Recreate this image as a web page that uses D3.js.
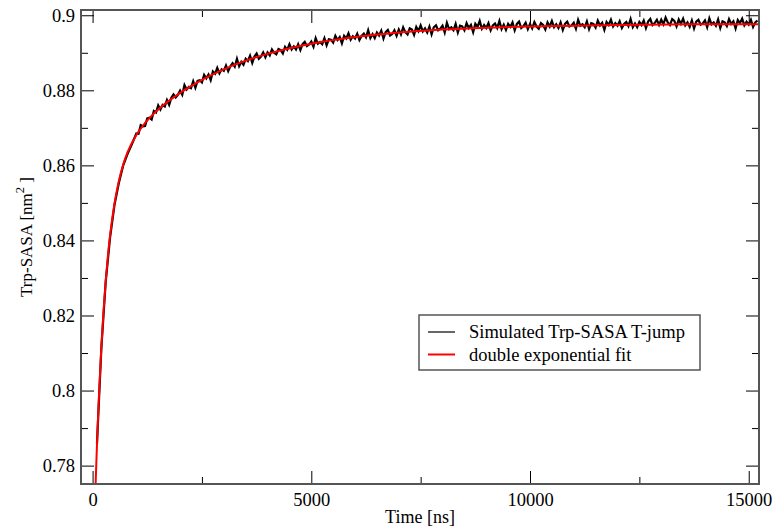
<!DOCTYPE html>
<html>
<head>
<meta charset="utf-8">
<script src="https://cdn.jsdelivr.net/npm/d3@7/dist/d3.min.js"></script>
<style>
  body { margin: 0; background: #fff; }
  text { font-family: "Liberation Serif", "Times New Roman", serif; fill: #000; }
</style>
</head>
<body>
<script>
const svgW = 775;
const svgH = 527;

// time axis (ns)
const xTickValues = [0, 5000, 10000, 15000];
const xTickLabels = ['0', '5000', '10000', '15000'];
const xMinorValues = [2500, 7500, 12500];

// SASA axis (nm^2)
const yTickValues = [0.78, 0.80, 0.82, 0.84, 0.86, 0.88, 0.90];
const yTickLabels = ['0.78', '0.8', '0.82', '0.84', '0.86', '0.88', '0.9'];
const yMinorValues = [0.79, 0.81, 0.83, 0.85, 0.87, 0.89];

const seriesNames = ['Simulated Trp-SASA T-jump', 'double exponential fit'];

// simulated trace: every 100 ns up to 900 ns, then every 50 ns
const simTime = d3.range(100, 1000, 100).concat(d3.range(1000, 15201, 50));
const simSasa = [
  0.7858, 0.8112, 0.8290, 0.8408, 0.8494, 0.8553, 0.8600, 0.8631, 0.8657,
  // 1000 - 2950
  0.8685, 0.8684, 0.8707, 0.8704, 0.8705, 0.8725, 0.8727, 0.8722, 0.8745, 0.8741,
  0.8760, 0.8749, 0.8761, 0.8757, 0.8774, 0.8761, 0.8780, 0.8789, 0.8781, 0.8788,
  0.8799, 0.8788, 0.8814, 0.8802, 0.8809, 0.8806, 0.8824, 0.8807, 0.8825, 0.8827,
  0.8821, 0.8841, 0.8832, 0.8842, 0.8827, 0.8850, 0.8844, 0.8860, 0.8845, 0.8856,
  // 3000 - 4950
  0.8852, 0.8866, 0.8851, 0.8864, 0.8872, 0.8863, 0.8884, 0.8864, 0.8876, 0.8868,
  0.8884, 0.8878, 0.8892, 0.8873, 0.8890, 0.8898, 0.8884, 0.8890, 0.8901, 0.8888,
  0.8901, 0.8893, 0.8909, 0.8900, 0.8896, 0.8910, 0.8907, 0.8898, 0.8916, 0.8908,
  0.8923, 0.8909, 0.8917, 0.8909, 0.8923, 0.8907, 0.8923, 0.8929, 0.8918, 0.8922,
  // 5000 - 6950
  0.8930, 0.8916, 0.8939, 0.8924, 0.8929, 0.8923, 0.8939, 0.8920, 0.8936, 0.8935,
  0.8927, 0.8945, 0.8934, 0.8942, 0.8925, 0.8945, 0.8938, 0.8952, 0.8935, 0.8944,
  0.8938, 0.8951, 0.8934, 0.8945, 0.8951, 0.8941, 0.8960, 0.8939, 0.8950, 0.8939,
  0.8954, 0.8946, 0.8959, 0.8938, 0.8955, 0.8961, 0.8946, 0.8950, 0.8960, 0.8945,
  // 7000 - 8950
  0.8962, 0.8949, 0.8968, 0.8955, 0.8949, 0.8965, 0.8962, 0.8948, 0.8969, 0.8958,
  0.8973, 0.8957, 0.8965, 0.8954, 0.8970, 0.8949, 0.8968, 0.8973, 0.8960, 0.8964,
  0.8972, 0.8954, 0.8980, 0.8963, 0.8968, 0.8960, 0.8977, 0.8954, 0.8972, 0.8970,
  0.8960, 0.8979, 0.8966, 0.8974, 0.8955, 0.8977, 0.8969, 0.8985, 0.8964, 0.8974,
  // 9000 - 10950
  0.8966, 0.8979, 0.8960, 0.8973, 0.8978, 0.8966, 0.8985, 0.8963, 0.8975, 0.8961,
  0.8977, 0.8969, 0.8981, 0.8960, 0.8977, 0.8983, 0.8966, 0.8971, 0.8980, 0.8963,
  0.8977, 0.8965, 0.8982, 0.8970, 0.8964, 0.8979, 0.8974, 0.8962, 0.8981, 0.8970,
  0.8985, 0.8968, 0.8976, 0.8966, 0.8981, 0.8961, 0.8977, 0.8983, 0.8970, 0.8973,
  // 11000 - 12950
  0.8980, 0.8964, 0.8988, 0.8972, 0.8976, 0.8968, 0.8984, 0.8963, 0.8979, 0.8977,
  0.8967, 0.8986, 0.8973, 0.8980, 0.8961, 0.8982, 0.8974, 0.8988, 0.8970, 0.8979,
  0.8972, 0.8984, 0.8966, 0.8977, 0.8982, 0.8971, 0.8990, 0.8968, 0.8978, 0.8968,
  0.8982, 0.8974, 0.8986, 0.8966, 0.8983, 0.8990, 0.8974, 0.8979, 0.8988, 0.8974,
  // 13000 - 14950
  0.8988, 0.8976, 0.8994, 0.8981, 0.8974, 0.8990, 0.8985, 0.8970, 0.8989, 0.8977,
  0.8991, 0.8973, 0.8981, 0.8969, 0.8986, 0.8965, 0.8983, 0.8988, 0.8975, 0.8978,
  0.8986, 0.8968, 0.8992, 0.8976, 0.8981, 0.8972, 0.8989, 0.8966, 0.8984, 0.8981,
  0.8971, 0.8990, 0.8977, 0.8984, 0.8965, 0.8987, 0.8979, 0.8991, 0.8973, 0.8983,
  // 15000 - 15200
  0.8975, 0.8988, 0.8969, 0.8981, 0.8986
];

// double exponential fit
const fitTime = [
  60, 80, 100, 125, 150, 200, 250, 300, 350, 400,
  500, 600, 700, 800, 1000, 1200, 1500, 2000, 2500, 3000,
  3500, 4000, 5000, 6000, 7000, 8000, 9000, 10000, 12000, 14000, 15250
];
const fitSasa = [
  0.7718, 0.7789, 0.7855, 0.7930, 0.7998, 0.8115, 0.8212, 0.8292, 0.8359, 0.8414,
  0.8498, 0.8558, 0.8602, 0.8635, 0.8681, 0.8713, 0.8749, 0.8793, 0.8828, 0.8856,
  0.8879, 0.8897, 0.8924, 0.8942, 0.8954, 0.8962, 0.8967, 0.8970, 0.8974, 0.8976, 0.8976
];

const margin = { top: 10, right: 16, bottom: 43, left: 81 };
const width = svgW - margin.left - margin.right;
const height = svgH - margin.top - margin.bottom;

const svg = d3.select('body')
              .append('svg')
              .attr('width', svgW)
              .attr('height', svgH);

const g = svg.append('g')
             .attr('transform', `translate(${margin.left}, ${margin.top})`);

const xScale = d3.scaleLinear().domain([-265, 15235]).range([0, width]);
const yScale = d3.scaleLinear().domain([0.7751, 0.9014]).range([height, 0]);

g.append('clipPath')
  .attr('id', 'plot-clip')
  .append('rect')
  .attr('width', width)
  .attr('height', height);

// lines
const simLine = d3.line()
  .x((d, i) => xScale(simTime[i]))
  .y(d => yScale(d));

const fitLine = d3.line()
  .x((d, i) => xScale(fitTime[i]))
  .y(d => yScale(d))
  .curve(d3.curveMonotoneX);

const plot = g.append('g').attr('clip-path', 'url(#plot-clip)');

// the recorded trace is very dense, so it reads as a thick jagged band
plot.append('path')
  .datum(simSasa)
  .attr('d', simLine)
  .attr('fill', 'none')
  .attr('stroke', '#000')
  .attr('stroke-width', 2.2)
  .attr('stroke-linejoin', 'miter');

plot.append('path')
  .datum(fitSasa)
  .attr('d', fitLine)
  .attr('fill', 'none')
  .attr('stroke', '#ff0000')
  .attr('stroke-width', 2);

// axes: ticks point inward, mirrored on top and right
const majorLen = 13;
const minorLen = 7;

function styleAxis(sel) {
  sel.select('.domain').remove();
  sel.selectAll('line').attr('stroke', '#000').attr('stroke-width', 1);
  sel.selectAll('text').style('font-size', '18.5px').attr('fill', '#000');
}

g.append('g')
  .attr('transform', `translate(0, ${height})`)
  .call(d3.axisBottom(xScale).tickValues(xTickValues)
    .tickFormat((d, i) => xTickLabels[i])
    .tickSizeInner(-majorLen).tickSizeOuter(0).tickPadding(9))
  .call(styleAxis);

g.append('g')
  .attr('transform', `translate(0, ${height})`)
  .call(d3.axisBottom(xScale).tickValues(xMinorValues).tickFormat('')
    .tickSizeInner(-minorLen).tickSizeOuter(0))
  .call(styleAxis);

g.append('g')
  .call(d3.axisTop(xScale).tickValues(xTickValues).tickFormat('')
    .tickSizeInner(-majorLen).tickSizeOuter(0))
  .call(styleAxis);

g.append('g')
  .call(d3.axisTop(xScale).tickValues(xMinorValues).tickFormat('')
    .tickSizeInner(-minorLen).tickSizeOuter(0))
  .call(styleAxis);

g.append('g')
  .call(d3.axisLeft(yScale).tickValues(yTickValues)
    .tickFormat((d, i) => yTickLabels[i])
    .tickSizeInner(-majorLen).tickSizeOuter(0).tickPadding(6))
  .call(styleAxis);

g.append('g')
  .call(d3.axisLeft(yScale).tickValues(yMinorValues).tickFormat('')
    .tickSizeInner(-minorLen).tickSizeOuter(0))
  .call(styleAxis);

g.append('g')
  .attr('transform', `translate(${width}, 0)`)
  .call(d3.axisRight(yScale).tickValues(yTickValues).tickFormat('')
    .tickSizeInner(-majorLen).tickSizeOuter(0))
  .call(styleAxis);

g.append('g')
  .attr('transform', `translate(${width}, 0)`)
  .call(d3.axisRight(yScale).tickValues(yMinorValues).tickFormat('')
    .tickSizeInner(-minorLen).tickSizeOuter(0))
  .call(styleAxis);

// frame
g.append('rect')
  .attr('width', width)
  .attr('height', height)
  .attr('fill', 'none')
  .attr('stroke', '#555')
  .attr('stroke-width', 2);

// axis titles
g.append('text')
  .attr('x', width / 2)
  .attr('y', height + 39)
  .attr('text-anchor', 'middle')
  .style('font-size', '18px')
  .text('Time [ns]');

const yTitle = svg.append('text')
  .attr('transform', 'translate(32, 237) rotate(-90)')
  .attr('text-anchor', 'middle')
  .style('font-size', '17px');
yTitle.append('tspan').text('Trp-SASA [nm');
yTitle.append('tspan').attr('dy', -8).style('font-size', '12.5px').text('2');
yTitle.append('tspan').attr('dy', 8).text(' ]');

// legend
const legend = svg.append('g').attr('transform', 'translate(419, 315)');
legend.append('rect')
  .attr('width', 281)
  .attr('height', 55)
  .attr('fill', '#fff')
  .attr('stroke', '#555')
  .attr('stroke-width', 1.5);

const legendColors = ['#000', '#ff0000'];
const legendRows = legend.selectAll('g.row')
  .data(seriesNames)
  .enter()
  .append('g')
  .attr('class', 'row')
  .attr('transform', (d, i) => `translate(0, ${17 + i * 22.5})`);

legendRows.append('line')
  .attr('x1', 9)
  .attr('x2', 36)
  .attr('stroke', (d, i) => legendColors[i])
  .attr('stroke-width', (d, i) => i === 0 ? 1.2 : 2);

legendRows.append('text')
  .attr('x', 50)
  .attr('dy', '0.33em')
  .style('font-size', '18.5px')
  .text(d => d);
</script>
</body>
</html>
